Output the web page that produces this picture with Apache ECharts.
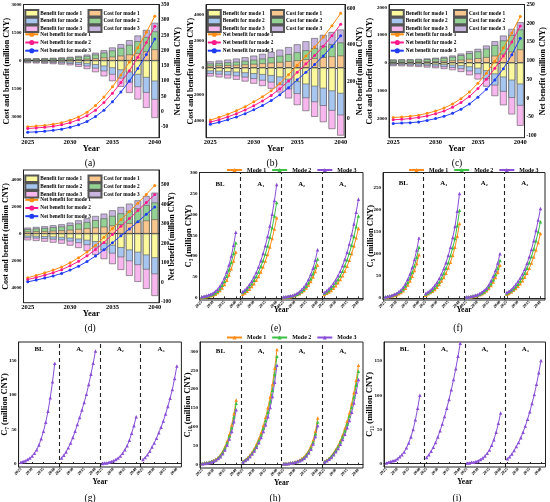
<!DOCTYPE html>
<html>
<head>
<meta charset="utf-8">
<script src="https://cdn.jsdelivr.net/npm/echarts@6/dist/echarts.min.js"></script>
<style>
html, body { margin: 0; padding: 0; background: #fff; }
#main { width: 550px; height: 502px; }
</style>
</head>
<body>
<div id="main"></div>
<script>
var FONT = '"Liberation Serif", "Times New Roman", "DejaVu Serif", serif';

// years on the x axis
var years = ['2025', '2026', '2027', '2028', '2029', '2030', '2031', '2032',
             '2033', '2034', '2035', '2036', '2037', '2038', '2039', '2040'];
var segNames = ['BL', 'A\u2081', 'A\u2082', 'A\u2083'];

// (a) cost / benefit (million CNY), cumulative by mode, and net benefit
var aCost1 = [36, 38, 41, 45, 51, 60, 75, 96, 126, 165, 210, 264, 327, 402, 492, 600];
var aCost2 = [92, 96, 104, 116, 131, 154, 193, 246, 323, 424, 539, 678, 839, 1032, 1263, 1560];
var aCost3 = [120, 125, 135, 150, 170, 200, 250, 320, 420, 550, 700, 880, 1090, 1340, 1640, 2020];
var aBen1 = [50, 54, 59, 67, 76, 90, 119, 162, 223, 302, 396, 504, 623, 749, 911, 1105];
var aBen2 = [95, 102, 112, 126, 143, 170, 224, 306, 422, 571, 748, 952, 1176, 1414, 1720, 2090];
var aBen3 = [140, 150, 165, 185, 210, 250, 330, 450, 620, 840, 1100, 1400, 1730, 2080, 2530, 3070];
var aNet1 = [-49, -47, -45, -41, -36, -28, -17, -2, 20, 48, 81, 120, 162, 209, 259, 312];
var aNet2 = [-55, -53, -51, -48, -43, -36, -26, -13, 5, 30, 60, 95, 134, 178, 226, 279];
var aNet3 = [-67, -66, -64, -61, -57, -51, -43, -32, -16, 5, 32, 64, 100, 141, 187, 237];

// (b)
var bCost1 = [154, 173, 195, 221, 253, 291, 333, 381, 435, 496, 563, 637, 714, 790, 858, 918];
var bCost2 = [317, 356, 403, 455, 521, 601, 686, 785, 898, 1023, 1162, 1313, 1472, 1630, 1769, 1894];
var bCost3 = [480, 540, 610, 690, 790, 910, 1040, 1190, 1360, 1550, 1760, 1990, 2230, 2470, 2680, 2870];
var bBen1 = [247, 274, 304, 342, 391, 452, 521, 597, 703, 874, 1064, 1235, 1398, 1550, 1748, 1934];
var bBen2 = [455, 504, 560, 630, 721, 833, 959, 1099, 1295, 1610, 1960, 2275, 2576, 2856, 3220, 3563];
var bBen3 = [650, 720, 800, 900, 1030, 1190, 1370, 1570, 1850, 2300, 2800, 3250, 3680, 4080, 4600, 5090];
var bNet1 = [-9, 6, 23, 42, 64, 90, 118, 150, 190, 238, 290, 340, 388, 443, 505, 572];
var bNet2 = [-20, -7, 8, 26, 46, 69, 95, 125, 161, 204, 251, 297, 342, 393, 450, 513];
var bNet3 = [-32, -21, -7, 8, 26, 47, 70, 97, 129, 167, 210, 251, 293, 340, 392, 450];

// (c)
var cCost1 = [40, 41, 43, 46, 51, 59, 71, 86, 109, 139, 165, 205, 256, 323, 403, 482];
var cCost2 = [98, 103, 107, 115, 127, 148, 176, 213, 271, 344, 410, 508, 636, 804, 1000, 1197];
var cCost3 = [120, 125, 130, 140, 155, 180, 215, 260, 330, 420, 500, 620, 775, 980, 1220, 1460];
var cBen1 = [41, 43, 46, 51, 58, 66, 77, 90, 112, 153, 204, 292, 408, 520, 632, 772];
var cBen2 = [82, 85, 92, 102, 116, 133, 153, 180, 224, 306, 408, 585, 816, 1040, 1265, 1544];
var cBen3 = [120, 125, 135, 150, 170, 195, 225, 265, 330, 450, 600, 860, 1200, 1530, 1860, 2270];
var cNet1 = [-51, -50, -48, -45, -40, -34, -26, -15, -1, 17, 40, 67, 99, 134, 174, 218];
var cNet2 = [-57, -56, -54, -51, -47, -41, -34, -24, -11, 5, 26, 51, 80, 113, 150, 193];
var cNet3 = [-67, -66, -65, -63, -59, -54, -48, -40, -29, -15, 3, 24, 49, 79, 116, 160];

// (d)
var dCost1 = [155, 172, 189, 215, 241, 284, 344, 396, 456, 517, 603, 689, 775, 861, 973, 1059];
var dCost2 = [337, 374, 411, 467, 524, 617, 748, 860, 991, 1122, 1309, 1496, 1683, 1870, 2113, 2300];
var dCost3 = [443, 492, 541, 615, 689, 812, 984, 1132, 1304, 1476, 1722, 1968, 2214, 2460, 2780, 3026];
var dBen1 = [192, 211, 230, 259, 288, 343, 413, 503, 608, 733, 878, 1045, 1217, 1388, 1591, 1794];
var dBen2 = [320, 352, 384, 432, 480, 572, 689, 839, 1014, 1222, 1463, 1742, 2028, 2314, 2652, 2990];
var dBen3 = [492, 541, 590, 664, 738, 880, 1060, 1290, 1560, 1880, 2250, 2680, 3120, 3560, 4080, 4600];
var dNet1 = [23, 35, 48, 62, 78, 100, 125, 155, 190, 230, 275, 320, 362, 405, 450, 496];
var dNet2 = [14, 24, 36, 49, 64, 84, 107, 135, 167, 204, 245, 287, 326, 367, 408, 449];
var dNet3 = [2, 11, 21, 32, 45, 62, 82, 106, 134, 166, 202, 238, 273, 310, 348, 386];

// (e) C3, one row per scenario: BL, A1, A2, A3
var eMode1 = [[1, 2, 3, 4, 5, 7, 9, 13, 18, 24, 32, 42, 55, 70, 88, 110],
              [9, 12, 16, 21, 27, 34, 42, 51, 62, 74, 88, 104, 122, 142, 165, 192],
              [1, 2, 2, 3, 4, 6, 8, 10, 14, 18, 24, 31, 39, 50, 63, 79],
              [8, 11, 14, 18, 23, 29, 36, 44, 53, 64, 76, 90, 106, 124, 144, 166]];
var eMode2 = [[2, 3, 4, 5, 7, 9, 12, 16, 22, 30, 40, 52, 67, 85, 106, 132],
              [13, 16, 21, 27, 34, 42, 51, 62, 75, 89, 105, 124, 145, 168, 196, 228],
              [2, 2, 3, 4, 5, 7, 9, 12, 16, 21, 28, 36, 46, 58, 74, 93],
              [11, 14, 18, 23, 29, 36, 44, 53, 64, 77, 91, 107, 126, 147, 170, 196]];
var eMode3 = [[3, 4, 5, 7, 9, 12, 16, 21, 28, 37, 48, 62, 79, 100, 126, 157],
              [15, 19, 25, 32, 40, 50, 61, 74, 89, 106, 125, 147, 172, 200, 233, 271],
              [2, 3, 4, 5, 6, 8, 11, 15, 20, 26, 34, 44, 56, 71, 90, 115],
              [13, 17, 22, 28, 35, 43, 53, 64, 77, 92, 109, 129, 151, 177, 205, 236]];

// (f) C5
var fMode1 = [[1, 2, 3, 4, 5, 7, 9, 12, 16, 22, 29, 38, 49, 62, 78, 98],
              [6, 9, 12, 15, 19, 24, 30, 38, 46, 56, 68, 81, 97, 115, 140, 169],
              [1, 1, 2, 3, 4, 5, 7, 9, 12, 16, 21, 28, 36, 46, 58, 74],
              [8, 10, 13, 17, 21, 26, 32, 39, 47, 56, 67, 79, 93, 109, 126, 146]];
var fMode2 = [[2, 3, 4, 5, 7, 9, 12, 15, 20, 27, 35, 45, 58, 73, 92, 115],
              [8, 11, 14, 18, 23, 29, 36, 45, 55, 67, 80, 96, 114, 135, 164, 199],
              [1, 2, 3, 4, 5, 6, 8, 11, 14, 19, 25, 32, 41, 53, 67, 85],
              [10, 13, 16, 20, 25, 31, 38, 46, 56, 67, 80, 94, 111, 130, 150, 173]];
var fMode3 = [[2, 3, 4, 6, 8, 10, 14, 18, 24, 32, 42, 54, 69, 87, 109, 136],
              [10, 13, 17, 22, 28, 35, 44, 54, 66, 80, 96, 115, 137, 162, 197, 237],
              [2, 2, 3, 4, 6, 7, 10, 13, 17, 22, 29, 38, 49, 62, 79, 100],
              [12, 15, 19, 24, 30, 37, 45, 54, 65, 78, 93, 110, 130, 153, 177, 203]];

// (g) C7
var gVals = [[2, 3, 4, 6, 8, 11, 15, 20, 27, 36, 47, 60, 76, 96, 119, 146],
             [8, 12, 17, 23, 30, 38, 47, 57, 67, 78, 89, 101, 115, 130, 146, 164],
             [0, 1, 1, 2, 3, 4, 6, 8, 11, 15, 20, 26, 34, 44, 55, 68],
             [6, 9, 13, 18, 24, 30, 37, 45, 53, 62, 72, 83, 95, 108, 124, 142]];

// (h) C10
var hMode1 = [[2, 3, 4, 5, 7, 10, 13, 18, 25, 34, 46, 61, 80, 104, 134, 171],
              [8, 12, 17, 24, 32, 42, 54, 68, 84, 103, 125, 150, 179, 212, 255, 305],
              [1, 2, 2, 3, 4, 6, 8, 11, 15, 20, 27, 36, 48, 64, 88, 123],
              [7, 11, 16, 22, 30, 39, 50, 63, 78, 95, 114, 136, 161, 190, 223, 263]];
var hMode2 = [[2, 3, 4, 5, 7, 9, 12, 17, 23, 32, 43, 57, 75, 97, 126, 162],
              [7, 11, 16, 22, 30, 39, 50, 63, 78, 96, 116, 139, 166, 197, 240, 287],
              [1, 2, 2, 3, 4, 5, 7, 10, 13, 18, 25, 33, 44, 59, 81, 112],
              [7, 10, 15, 21, 28, 37, 47, 59, 73, 89, 107, 128, 152, 179, 210, 247]];
var hMode3 = [[1, 2, 3, 4, 6, 8, 11, 15, 20, 28, 38, 51, 67, 87, 113, 145],
              [6, 10, 14, 20, 27, 35, 45, 57, 71, 87, 105, 126, 151, 180, 218, 263],
              [1, 1, 2, 3, 4, 5, 7, 9, 12, 16, 22, 30, 40, 54, 74, 103],
              [6, 9, 13, 18, 25, 33, 42, 53, 66, 80, 97, 116, 138, 163, 192, 225]];

// (i) C11
var iVals = [[1, 2, 3, 4, 5, 7, 10, 13, 17, 23, 30, 39, 50, 64, 81, 100],
             [9, 13, 18, 24, 31, 39, 48, 58, 69, 81, 94, 108, 123, 139, 157, 176],
             [1, 1, 2, 2, 3, 4, 6, 8, 11, 15, 20, 27, 35, 46, 59, 74],
             [7, 10, 14, 19, 25, 31, 38, 46, 55, 65, 76, 88, 101, 116, 133, 151]];

var costColors = ['#f9c68e', '#93d293', '#c8b5df'];
var benColors = ['#fcf99c', '#a6c6f0', '#f8b6ef'];
var netColors = ['#ff8c10', '#ff1a8c', '#1f3cf5'];
var modeColors = ['#ff8c1a', '#3cc043', '#8a4fd6'];

var grids = [], xAxes = [], yAxes = [], series = [], legends = [], graphics = [];

function txt(size, bold) {
    return {fontFamily: FONT, fontSize: size, fontWeight: bold ? 'bold' : 'normal', color: '#000'};
}

function addGrid(g) {
    grids.push({left: g[0], top: g[1], width: g[2], height: g[3], show: true,
        borderColor: '#222', borderWidth: 1, backgroundColor: 'transparent', outerBoundsMode: 'none'});
    return grids.length - 1;
}

// value axis; ticks every r[2] but label only on multiples of r[3]
function valueAxis(gi, pos, r, name, gap, size, abs) {
    yAxes.push({
        gridIndex: gi, type: 'value', position: pos, min: r[0], max: r[1], interval: r[2],
        name: name, nameLocation: 'middle', nameGap: gap, nameMoveOverlap: false,
        nameTextStyle: txt(size[1], true),
        axisLine: {show: true, lineStyle: {color: '#222', width: 1}},
        axisTick: {show: false}, splitLine: {show: false},
        axisLabel: Object.assign(txt(size[0], true), {margin: 2, formatter: function (v) {
            if (Math.round(v) % r[3] !== 0) return '';
            return String(abs ? Math.abs(Math.round(v)) : Math.round(v));
        }})
    });
    return yAxes.length - 1;
}

function showYear(i) { return i % 5 === 0; }

// one legend entry per component so rows can be spaced by hand
function legendRow(left, top, name, icon) {
    var l = {left: left, top: top, orient: 'vertical', itemWidth: 13, itemHeight: 6.4, padding: 0,
        selectedMode: false, data: [name],
        textStyle: Object.assign(txt(5.3, true), {lineHeight: 6.4, padding: [0, 0, 0, -3]})};
    if (icon) l.icon = icon;
    legends.push(l);
}

// ---------- (a)-(d): bars + net benefit lines ----------
var topPanels = [
    {g: [23.5, 4.5, 135.5, 133.2], ly: [-4125, 3000, 375, 1500], ry: [-85, 350, 5, 50], lg: 12.5, rg: 15,
     cost: [aCost1, aCost2, aCost3], ben: [aBen1, aBen2, aBen3], net: [aNet1, aNet2, aNet3], cap: ['(a)', 90, 163]},
    {g: [206, 4.5, 139, 133.2], ly: [-5250, 4750, 250, 2000], ry: [-105, 620, 5, 200], lg: 11.5, rg: 11,
     cost: [bCost1, bCost2, bCost3], ben: [bBen1, bBen2, bBen3], net: [bNet1, bNet2, bNet3], cap: ['(b)', 272, 163]},
    {g: [389, 4.5, 135.5, 133.2], ly: [-2700, 2100, 100, 1000], ry: [-105, 250, 5, 50], lg: 15.5, rg: 14,
     cost: [cCost1, cCost2, cCost3], ben: [cBen1, cBen2, cBen3], net: [cNet1, cNet2, cNet3], cap: ['(c)', 457, 163]},
    {g: [23.5, 170, 135.5, 132.7], ly: [-5100, 4700, 100, 2000], ry: [-105, 575, 5, 100], lg: 14, rg: 9,
     cost: [dCost1, dCost2, dCost3], ben: [dBen1, dBen2, dBen3], net: [dNet1, dNet2, dNet3], cap: ['(d)', 90, 328]}
];

topPanels.forEach(function (p) {
    var gi = addGrid(p.g);
    xAxes.push({
        gridIndex: gi, type: 'category', data: years, boundaryGap: true,
        name: 'Year', nameLocation: 'middle', nameGap: 7, nameMoveOverlap: false,
        nameTextStyle: Object.assign(txt(8.5, true), {verticalAlign: 'top'}),
        axisLine: {lineStyle: {color: '#222', width: 1}},
        axisTick: {inside: true, length: 2, alignWithLabel: true, interval: showYear, lineStyle: {color: '#222'}},
        axisLabel: Object.assign(txt(6.5, true), {interval: showYear, margin: 1.5}),
        splitLine: {show: false}
    });
    var yl = valueAxis(gi, 'left', p.ly, 'Cost and benefit (million CNY)', p.lg, [5, 8], true);
    var yr = valueAxis(gi, 'right', p.ry, 'Net benefit (million CNY)', p.rg, [5.5, 8], false);

    // larger totals drawn first so the smaller mode shows in front
    for (var m = 2; m >= 0; m--) {
        series.push({type: 'bar', name: 'Cost for mode ' + (m + 1), xAxisIndex: gi, yAxisIndex: yl,
            data: p.cost[m], barWidth: '80%', barGap: '-100%',
            itemStyle: {color: costColors[m], borderColor: '#555', borderWidth: 0.6}});
    }
    for (m = 2; m >= 0; m--) {
        series.push({type: 'bar', name: 'Benefit for mode ' + (m + 1), xAxisIndex: gi, yAxisIndex: yl,
            data: p.ben[m].map(function (v) { return -v; }), barWidth: '80%', barGap: '-100%',
            itemStyle: {color: benColors[m], borderColor: '#555', borderWidth: 0.6}});
    }
    for (m = 0; m < 3; m++) {
        series.push({type: 'line', name: 'Net benefit for mode ' + (m + 1), xAxisIndex: gi, yAxisIndex: yr,
            data: p.net[m], symbol: 'circle', symbolSize: 3, showSymbol: true, showAllSymbol: true, z: 5,
            lineStyle: {color: netColors[m], width: 1}, itemStyle: {color: netColors[m]}});
    }

    var L = p.g[0], T = p.g[1];
    for (var r = 0; r < 3; r++) {
        legendRow(L + 0.8, T + 4.6 + r * 7.7, 'Benefit for mode ' + (r + 1), 'rect');
        legendRow(L + 64, T + 4.6 + r * 7.7, 'Cost for mode ' + (r + 1), 'rect');
        legendRow(L + 0.8, T + 26.6 + r * 8.2, 'Net benefit for mode ' + (r + 1), null);
    }

    graphics.push({type: 'text', x: p.cap[1], y: p.cap[2],
        style: {text: p.cap[0], font: '9.5px ' + FONT, fill: '#000', align: 'center', verticalAlign: 'middle'}});
});

// ---------- (e)-(i): four scenario blocks per panel ----------
// per block: boundary, 16 years, one spare slot
var segCats = [];
for (var k = 0; k < 4; k++) {
    segCats.push(k + '|b');
    for (var j = 0; j < 16; j++) segCats.push(k + '|' + years[j]);
    segCats.push(k + '|g');
}
segCats.push('4|b');

function showSegYear(i, v) {
    var y = String(v).split('|')[1];
    return y === '2025' || y === '2030' || y === '2035' || y === '2040';
}

function segData(rows) {
    var out = segCats.map(function () { return null; });
    rows.forEach(function (row, k) {
        row.forEach(function (v, j) { out[k * 18 + 1 + j] = v; });
    });
    return out;
}

var linePanels = [
    {g: [199.5, 172.5, 163.5, 127.5], y: [-5, 300, 5, 50], name: 'C\u2083 (million CNY)', ng: 6.5,
     modes: [eMode1, eMode2, eMode3], leg: [226, 167], segY: 11.5, yearGap: 6, cap: ['(e)', 276, 328]},
    {g: [383, 172.5, 162, 127.5], y: [-5, 285, 5, 50], name: 'C\u2085 (million CNY)', ng: 7.5,
     modes: [fMode1, fMode2, fMode3], leg: [408, 167], segY: 10.5, yearGap: 6, cap: ['(f)', 458, 328]},
    {g: [18.6, 342, 162.8, 125], y: [-5, 177, 1, 50], name: 'C\u2087 (million CNY)', ng: 9,
     modes: [null, null, gVals], leg: null, segY: 7.5, yearGap: 11, cap: ['(g)', 90, 498]},
    {g: [200, 342, 163, 126], y: [-10, 325, 5, 50], name: 'C\u2081\u2080 (million CNY)', ng: 7.5,
     modes: [hMode1, hMode2, hMode3], leg: [226, 334.5], segY: 9, yearGap: 11, cap: ['(h)', 275, 498]},
    {g: [384, 342, 161.5, 125], y: [-5, 178, 1, 50], name: 'C\u2081\u2081 (million CNY)', ng: 9.5,
     modes: [null, null, iVals], leg: null, segY: 7.5, yearGap: 11, cap: ['(i)', 457, 498]}
];

linePanels.forEach(function (p) {
    var gi = addGrid(p.g);
    xAxes.push({
        gridIndex: gi, type: 'category', data: segCats, boundaryGap: false,
        name: 'Year', nameLocation: 'middle', nameGap: p.yearGap, nameMoveOverlap: false,
        nameTextStyle: Object.assign(txt(7.5, true), {verticalAlign: 'top'}),
        axisLine: {lineStyle: {color: '#222', width: 1}},
        axisTick: {inside: true, length: 1.5, interval: showSegYear, lineStyle: {color: '#222'}},
        axisLabel: Object.assign(txt(4.2, true), {interval: showSegYear, rotate: 45, margin: 1.5,
            formatter: function (v) { return String(v).split('|')[1]; }}),
        splitLine: {show: false}
    });
    var yi = valueAxis(gi, 'left', p.y, p.name, p.ng, [5, 8.5], false);

    var first = true;
    p.modes.forEach(function (rows, m) {
        if (!rows) return;
        var s = {type: 'line', name: p.leg ? 'Mode ' + (m + 1) : 'C series', xAxisIndex: gi, yAxisIndex: yi,
            data: segData(rows), connectNulls: false, symbol: 'triangle', symbolSize: 3.5,
            showSymbol: true, showAllSymbol: true,
            lineStyle: {color: modeColors[m], width: 1}, itemStyle: {color: modeColors[m]}};
        if (first) {
            s.markLine = {silent: true, symbol: 'none', label: {show: false},
                lineStyle: {color: '#222', type: [4, 3], width: 1.1},
                data: [{xAxis: '1|b'}, {xAxis: '2|b'}, {xAxis: '3|b'}]};
            first = false;
        }
        series.push(s);
    });

    if (p.leg) {
        legends.push({left: p.leg[0], top: p.leg[1], orient: 'horizontal', itemWidth: 15, itemHeight: 5,
            itemGap: 5, padding: 0, selectedMode: false,
            textStyle: Object.assign(txt(6, true), {lineHeight: 6}),
            data: ['Mode 1', 'Mode 2', 'Mode 3']});
    }

    for (var s2 = 0; s2 < 4; s2++) {
        graphics.push({type: 'text', x: p.g[0] + (s2 * 18 + 9) / 72 * p.g[2], y: p.g[1] + p.segY,
            style: {text: segNames[s2], font: 'bold 6.8px ' + FONT, fill: '#000', align: 'center', verticalAlign: 'middle'}});
    }
    graphics.push({type: 'text', x: p.cap[1], y: p.cap[2],
        style: {text: p.cap[0], font: '9.5px ' + FONT, fill: '#000', align: 'center', verticalAlign: 'middle'}});
});

var chart = echarts.init(document.getElementById('main'));
chart.setOption({
    animation: false,
    backgroundColor: '#fff',
    grid: grids,
    xAxis: xAxes,
    yAxis: yAxes,
    legend: legends,
    series: series,
    graphic: graphics
});
</script>
</body>
</html>
